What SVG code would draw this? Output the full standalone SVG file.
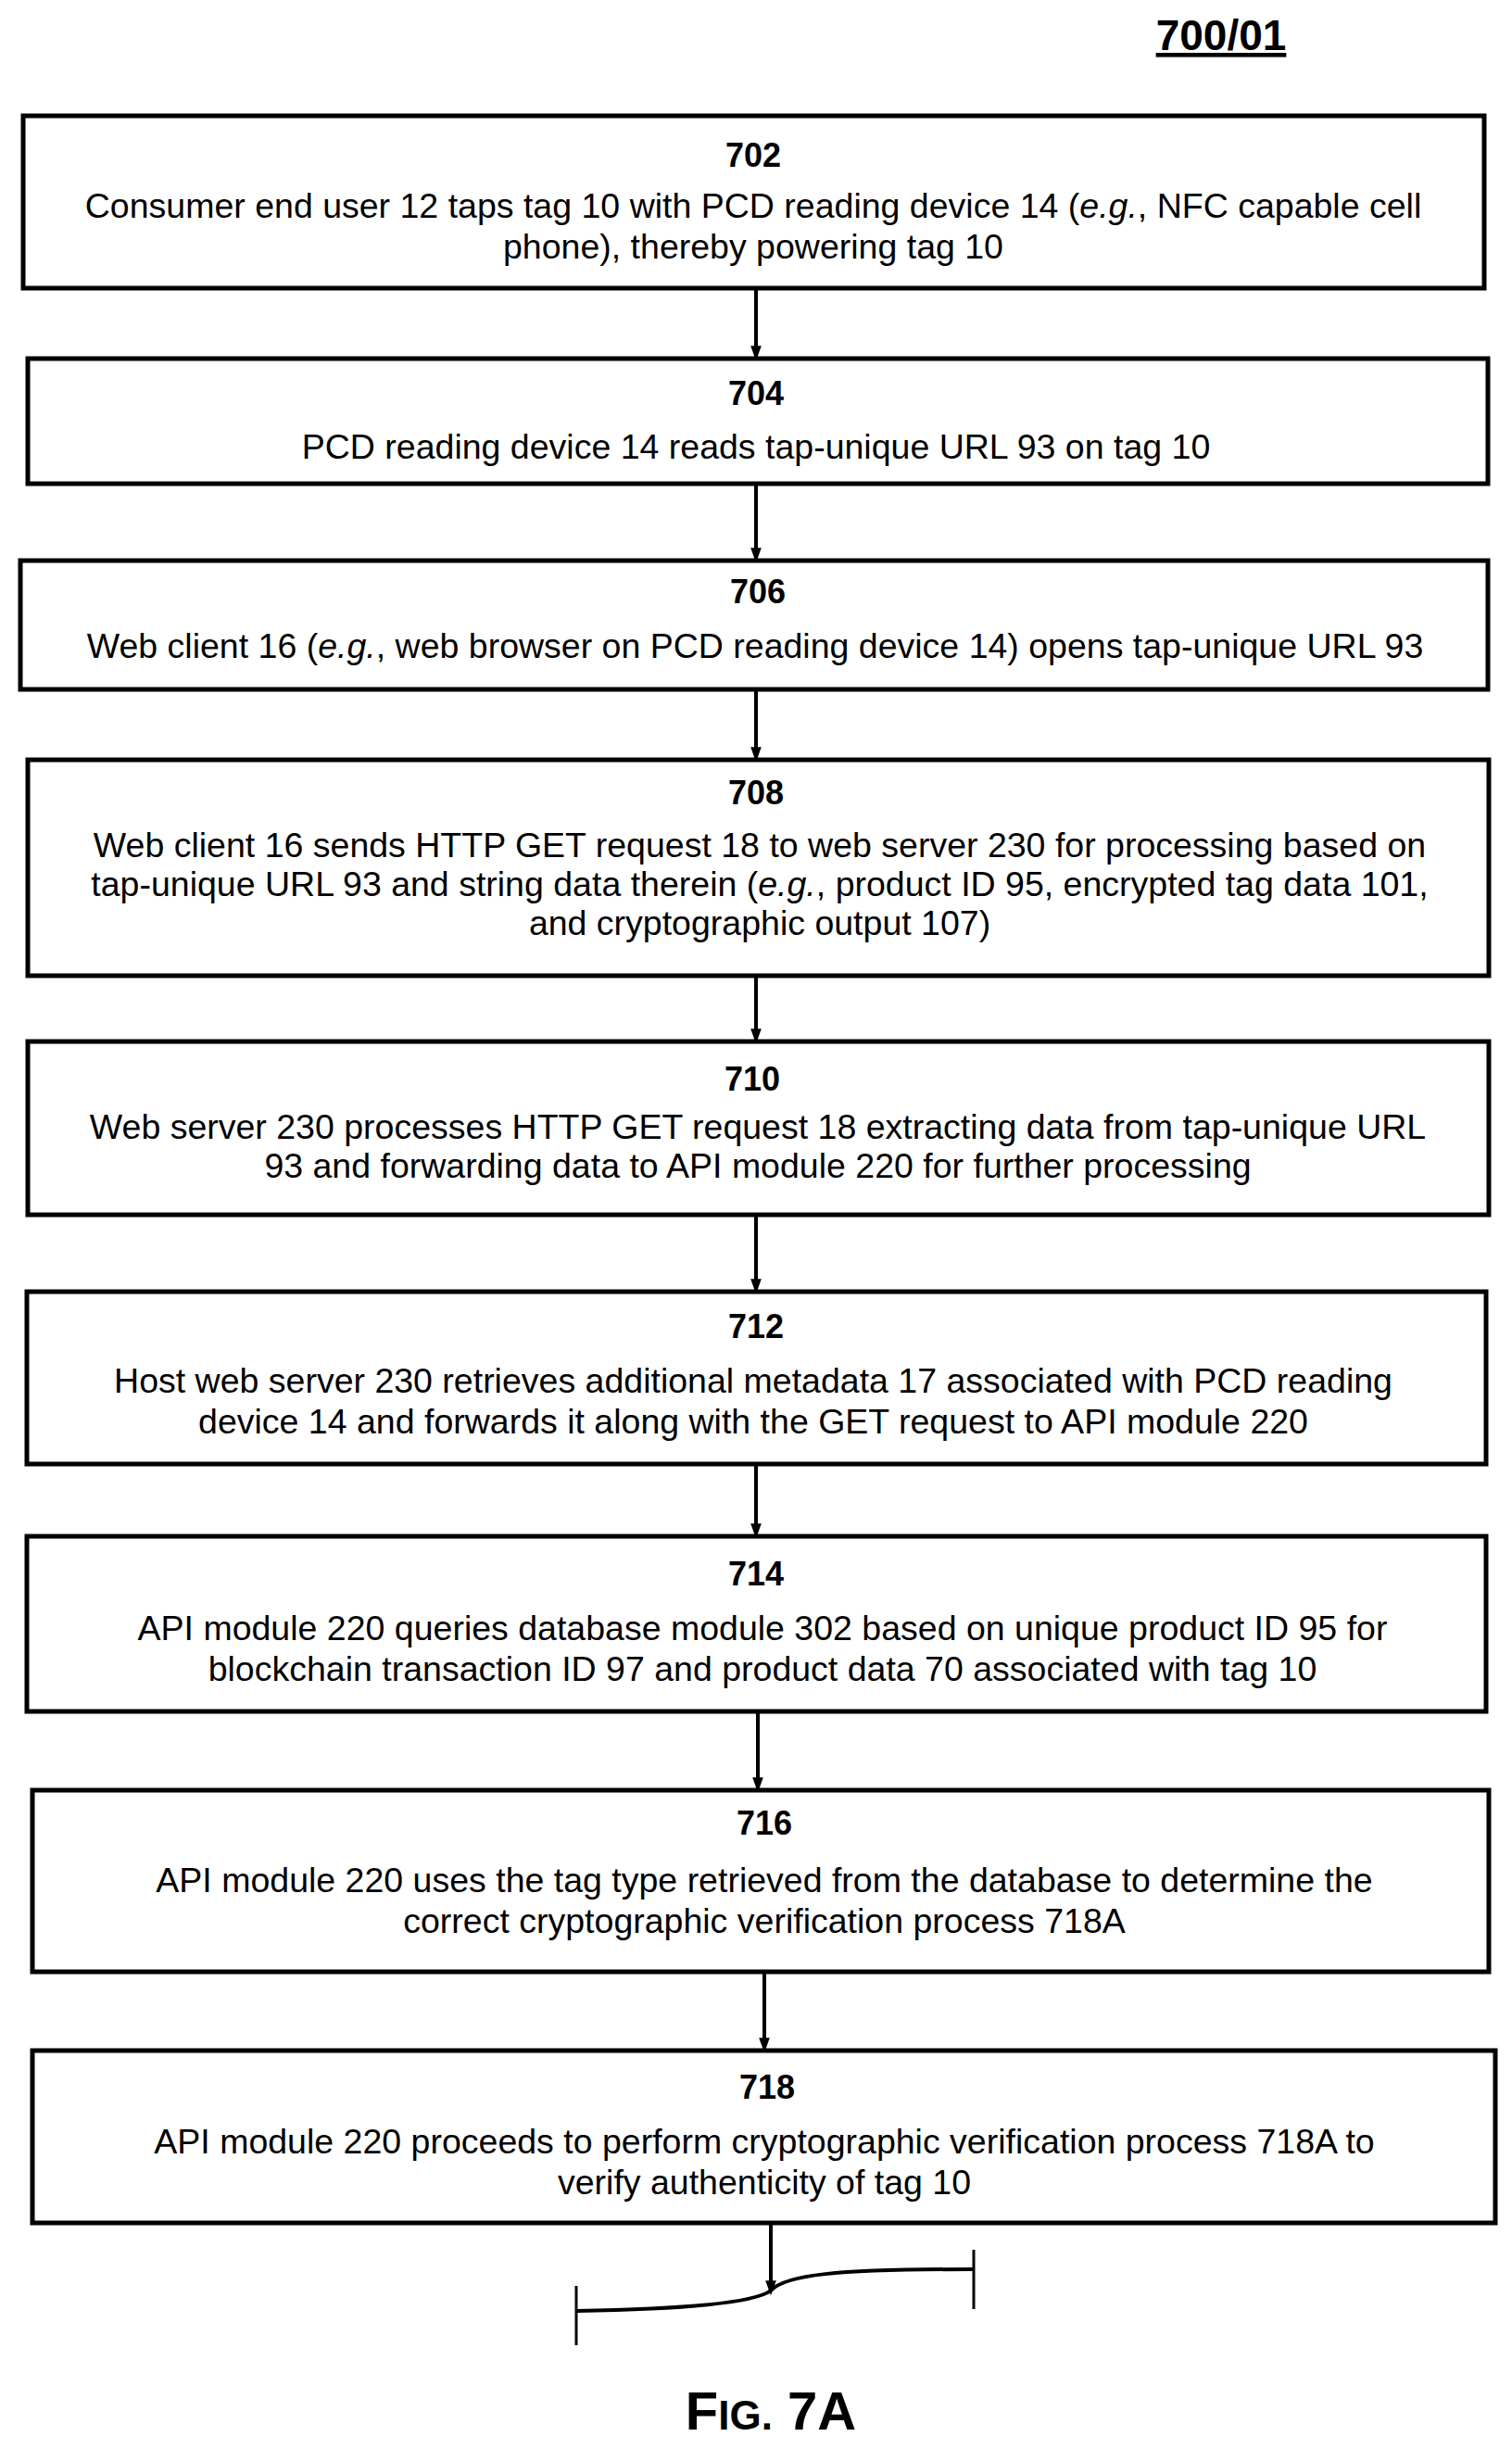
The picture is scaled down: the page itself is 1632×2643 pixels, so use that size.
<svg xmlns="http://www.w3.org/2000/svg" width="1632" height="2643" viewBox="0 0 1632 2643">
<style>
.b{fill:#fff;stroke:#000;stroke-width:5}
text{font-family:"Liberation Sans",Arial,sans-serif;font-size:37.5px;text-anchor:middle;fill:#000}
.n{font-weight:bold;font-size:36px}
.c{stroke:#000;stroke-width:4;fill:none}
</style>
<defs><marker id="a" markerWidth="16" markerHeight="22" refX="16" refY="8" orient="auto" markerUnits="userSpaceOnUse" viewBox="0 0 22 16"><path d="M0,0L22,8L0,16z"/></marker></defs>
<rect width="1632" height="2643" fill="#fff"/>
<text x="1318" y="54" class="n" style="font-size:46px;text-decoration:underline">700/01</text>
<g id="n702"><rect class="b" x="25" y="125" width="1577" height="186"/><text x="813" y="180" class="n">702</text><text x="813" y="235">Consumer end user 12 taps tag 10 with PCD reading device 14 (<tspan font-style="italic">e.g.</tspan>, NFC capable cell</text><text x="813" y="279">phone), thereby powering tag 10</text></g>
<g id="n704"><rect class="b" x="30" y="387" width="1576" height="135"/><text x="816" y="437" class="n">704</text><text x="816" y="495">PCD reading device 14 reads tap-unique URL 93 on tag 10</text></g>
<g id="n706"><rect class="b" x="22" y="605" width="1584" height="139"/><text x="818" y="651" class="n">706</text><text x="815" y="710">Web client 16 (<tspan font-style="italic">e.g.</tspan>, web browser on PCD reading device 14) opens tap-unique URL 93</text></g>
<g id="n708"><rect class="b" x="30" y="820" width="1577" height="233"/><text x="816" y="868" class="n">708</text><text x="820" y="925">Web client 16 sends HTTP GET request 18 to web server 230 for processing based on</text><text x="820" y="967">tap-unique URL 93 and string data therein (<tspan font-style="italic">e.g.</tspan>, product ID 95, encrypted tag data 101,</text><text x="820" y="1009">and cryptographic output 107)</text></g>
<g id="n710"><rect class="b" x="30" y="1124" width="1577" height="187"/><text x="812" y="1177" class="n">710</text><text x="818" y="1229">Web server 230 processes HTTP GET request 18 extracting data from tap-unique URL</text><text x="818" y="1271">93 and forwarding data to API module 220 for further processing</text></g>
<g id="n712"><rect class="b" x="29" y="1394" width="1575" height="186"/><text x="816" y="1444" class="n">712</text><text x="813" y="1503">Host web server 230 retrieves additional metadata 17 associated with PCD reading</text><text x="813" y="1547">device 14 and forwards it along with the GET request to API module 220</text></g>
<g id="n714"><rect class="b" x="29" y="1658" width="1575" height="189"/><text x="816" y="1711" class="n">714</text><text x="823" y="1770">API module 220 queries database module 302 based on unique product ID 95 for</text><text x="823" y="1814">blockchain transaction ID 97 and product data 70 associated with tag 10</text></g>
<g id="n716"><rect class="b" x="35" y="1932" width="1572" height="196"/><text x="825" y="1980" class="n">716</text><text x="825" y="2042">API module 220 uses the tag type retrieved from the database to determine the</text><text x="825" y="2086">correct cryptographic verification process 718A</text></g>
<g id="n718"><rect class="b" x="35" y="2213" width="1579" height="186"/><text x="828" y="2265" class="n">718</text><text x="825" y="2324">API module 220 proceeds to perform cryptographic verification process 718A to</text><text x="825" y="2368">verify authenticity of tag 10</text></g>
<g id="connectors">
<line class="c" x1="816" y1="311" x2="816" y2="385" marker-end="url(#a)"/>
<line class="c" x1="816" y1="522" x2="816" y2="603" marker-end="url(#a)"/>
<line class="c" x1="816" y1="744" x2="816" y2="818" marker-end="url(#a)"/>
<line class="c" x1="816" y1="1053" x2="816" y2="1122" marker-end="url(#a)"/>
<line class="c" x1="816" y1="1311" x2="816" y2="1392" marker-end="url(#a)"/>
<line class="c" x1="816" y1="1580" x2="816" y2="1656" marker-end="url(#a)"/>
<line class="c" x1="818" y1="1847" x2="818" y2="1930" marker-end="url(#a)"/>
<line class="c" x1="825" y1="2128" x2="825" y2="2211" marker-end="url(#a)"/>
<line class="c" x1="832" y1="2399" x2="832" y2="2473" marker-end="url(#a)"/>
<path class="c" d="M622,2494 C740,2492 815,2485 832,2472 C848,2455 900,2449 1051,2449"/>
<line class="c" x1="622" y1="2467" x2="622" y2="2531" style="stroke-width:3"/>
<line class="c" x1="1051" y1="2428" x2="1051" y2="2492" style="stroke-width:3"/>
</g>
<text x="832" y="2622" class="n" style="font-size:58px">F<tspan style="font-size:44px">IG.</tspan> 7A</text>
</svg>
